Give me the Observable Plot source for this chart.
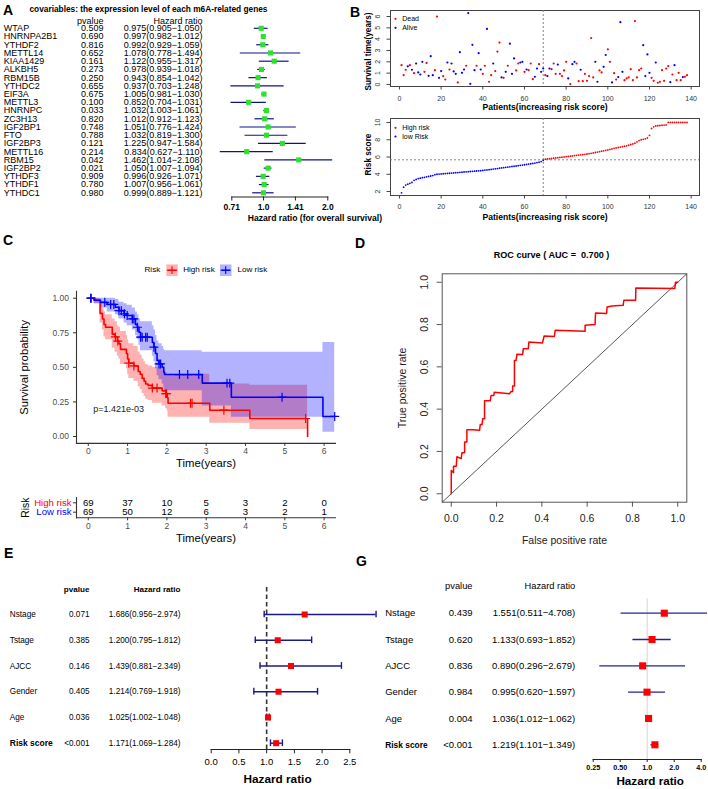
<!DOCTYPE html>
<html><head><meta charset="utf-8">
<script src="https://cdn.jsdelivr.net/npm/d3@7"></script>
<script src="https://cdn.jsdelivr.net/npm/@observablehq/plot@0.6"></script>
<style>
body{margin:0;background:#fff;}
#fig{position:relative;width:708px;height:789px;overflow:hidden;background:#fff;font-family:"Liberation Sans",Arial,Helvetica,sans-serif;}
.panel{position:absolute;}
.letter{position:absolute;font-weight:bold;font-size:14px;line-height:14px;color:#000;}
</style></head><body><div id="fig"></div>
<script>
// ---------------- Panel A data ----------------
const geneNames = ["WTAP","HNRNPA2B1","YTHDF2","METTL14","KIAA1429","ALKBH5","RBM15B","YTHDC2","EIF3A","METTL3","HNRNPC","ZC3H13","IGF2BP1","FTO","IGF2BP3","METTL16","RBM15","IGF2BP2","YTHDF3","YTHDF1","YTHDC1"];
const genePvals = ["0.509","0.690","0.816","0.652","0.161","0.273","0.250","0.655","0.675","0.100","0.033","0.820","0.748","0.788","0.121","0.214","0.042","0.021","0.909","0.780","0.980"];
const geneHR   = [0.975,0.997,0.992,1.078,1.122,0.978,0.943,0.937,1.005,0.852,1.032,1.012,1.051,1.032,1.225,0.834,1.462,1.050,0.996,1.007,0.999];
const geneLow  = [0.905,0.982,0.929,0.778,0.955,0.939,0.854,0.703,0.981,0.704,1.003,0.912,0.776,0.819,0.947,0.627,1.014,1.007,0.926,0.956,0.889];
const geneHigh = [1.050,1.012,1.059,1.494,1.317,1.018,1.042,1.248,1.030,1.031,1.061,1.123,1.424,1.300,1.584,1.110,2.108,1.094,1.071,1.061,1.121];
const geneTicks = [0.71, 1.0, 1.41, 2.0];

// ---------------- Panel B data ----------------
const survTimes = [1.7,0.82,1.3,1.6,1.7,1.3,1.0,1.85,1.06,0.88,
  2.0,1.12,1.9,0.76,2.5,0.82,1.26,6.0,0.59,1.18,
  0.74,0.44,1.94,1.32,1.85,1.15,0.94,0.18,2.85,1.03,
  1.32,1.65,6.3,0.06,3.5,1.26,1.65,2.76,1.32,0.94,
  1.65,4.9,0.24,0.82,1.85,1.18,2.9,3.7,0.62,0.59,
  1.12,1.65,3.6,0.94,2.3,1.24,1.85,1.94,2.0,1.12,
  1.32,1.26,1.85,0.47,0.68,1.41,1.79,1.12,1.41,0.82,
  0.74,1.41,1.35,1.85,0.94,1.76,0.94,0.74,1.24,2.0,
  0.53,0.03,1.79,2.0,1.85,0.29,1.3,0.29,0.94,0.32,
  0.74,4.1,0.62,2.0,0.24,1.24,1.06,1.56,2.6,3.1,
  2.0,0.18,1.0,0.44,0.65,5.5,1.12,0.38,0.53,0.62,
  1.35,0.38,5.6,0.62,1.26,1.41,3.47,0.74,2.65,1.03,
  0.59,0.32,1.94,0.15,0.24,1.26,0.32,1.41,1.62,0.2,
  0.88,1.7,0.38,1.03,0.38,0.65,0.68,0.82];
const survDead = [1,1,1,0,1,0,1,0,0,0, 0,1,1,0,0,0,1,1,0,0, 1,1,0,1,0,0,0,1,0,0, 0,1,0,0,0,0,1,0,0,1,
  1,0,1,1,0,1,1,1,0,1, 0,1,0,0,0,1,1,0,0,1, 0,1,1,1,0,0,1,0,0,1, 0,0,1,1,1,0,1,1,1,1,
  0,1,0,0,1,1,0,1,1,1, 1,1,1,0,0,1,1,0,0,1, 1,0,1,1,0,0,0,1,1,1, 1,1,1,1,1,1,0,0,0,0,
  1,1,0,1,1,1,1,1,1,0, 1,0,1,1,1,0,1,1];
const riskScores = [1.85,2.5,2.75,2.85,2.95,3.05,3.3,3.4,3.5,3.55,
  3.6,3.65,3.7,3.75,3.8,3.85,3.95,4.0,4.02,4.04,
  4.06,4.08,4.1,4.12,4.14,4.16,4.18,4.2,4.22,4.24,
  4.26,4.28,4.3,4.32,4.34,4.36,4.38,4.4,4.42,4.45,
  4.48,4.5,4.53,4.56,4.6,4.63,4.66,4.7,4.73,4.76,
  4.8,4.83,4.86,4.9,4.93,4.96,5.0,5.03,5.06,5.1,
  5.14,5.18,5.22,5.26,5.3,5.35,5.4,5.47,5.6,
  5.75,5.78,5.8,5.83,5.86,5.89,5.92,5.95,5.98,6.01,6.04,
  6.07,6.1,6.13,6.16,6.19,6.22,6.25,6.28,6.31,6.35,
  6.39,6.43,6.47,6.52,6.57,6.62,6.67,6.72,6.77,6.82,
  6.88,6.94,7.0,7.05,7.1,7.15,7.2,7.25,7.3,7.36,
  7.45,7.52,7.6,7.75,7.9,8.0,8.05,8.1,8.2,8.5,
  9.3,9.5,9.6,9.62,9.65,9.68,9.7,9.72,10.0,10.0,
  10.0,10.0,10.0,10.0,10.0,10.0,10.0,10.0];
const lowRiskCount = 69;
const patientTicks = [0,20,40,60,80,100,120,140];
const survTicks = [0,1,2,3,4,5,6];
const riskTicks = [2,4,6,8,10];

// ---------------- Panel C data ----------------
const highT  = [0,0.15,0.30,0.36,0.40,0.44,0.61,0.68,0.74,0.78,0.82,0.97,1.00,1.03,1.16,1.27,1.32,1.37,1.42,1.46,1.52,1.63,1.88,1.97,2.01,2.03,3.09,4.11,5.58];
const highS  = [1,0.986,0.89,0.85,0.81,0.79,0.74,0.72,0.69,0.67,0.63,0.60,0.56,0.53,0.51,0.47,0.45,0.42,0.40,0.38,0.37,0.35,0.33,0.31,0.28,0.24,0.19,0.13,0];
const highLo = [1,0.96,0.82,0.77,0.72,0.70,0.64,0.61,0.58,0.56,0.52,0.49,0.45,0.42,0.40,0.36,0.34,0.31,0.29,0.27,0.26,0.24,0.22,0.20,0.18,0.14,0.095,0.05,0.05];
const highHi = [1,1,0.96,0.93,0.90,0.88,0.85,0.83,0.80,0.79,0.76,0.73,0.70,0.67,0.65,0.61,0.59,0.56,0.54,0.52,0.51,0.50,0.48,0.46,0.44,0.45,0.38,0.37,0.37];
const lowT   = [0,0.15,0.31,0.48,0.69,0.78,0.91,0.99,1.12,1.20,1.25,1.29,1.33,1.63,1.67,1.71,1.75,1.80,1.88,1.92,1.94,2.90,3.64,5.97,6.27];
const lowS   = [1,0.985,0.97,0.955,0.935,0.91,0.887,0.875,0.85,0.81,0.79,0.754,0.718,0.68,0.646,0.60,0.55,0.525,0.50,0.465,0.448,0.386,0.284,0.145,0.145];
const lowLo  = [1,0.96,0.93,0.90,0.88,0.85,0.82,0.80,0.77,0.73,0.70,0.66,0.62,0.58,0.54,0.49,0.44,0.41,0.38,0.35,0.33,0.22,0.14,0.03,0.03];
const lowHi  = [1,1,1,1,0.99,0.97,0.96,0.95,0.93,0.90,0.88,0.85,0.83,0.80,0.77,0.73,0.69,0.67,0.65,0.63,0.62,0.61,0.61,0.68,0.68];
const highCens = [0.08,0.69,0.75,1.03,1.16,1.63,1.75,1.97,1.99,2.60,2.64,3.45,5.53];
const lowCens  = [0.06,0.42,0.57,0.65,0.78,0.84,0.92,0.99,1.12,1.16,1.25,1.33,1.37,1.46,1.50,1.67,1.80,1.84,2.32,2.53,2.81,3.53,3.60,4.93,6.27];
const riskTimes = [0,1,2,3,4,5,6];
const atRiskHigh = [69,37,10,5,3,2,0];
const atRiskLow  = [69,50,12,6,3,2,1];
const survProbTicks = [0,0.25,0.5,0.75,1];
const pValueText = "p=1.421e-03";

// ---------------- Panel D data ----------------
const rocFPR = [0,0,0.01,0.01,0.022,0.025,0.044,0.047,0.059,0.059,0.069,0.069,0.095,0.125,0.128,0.136,0.139,0.147,0.147,0.172,0.176,0.188,0.19,0.257,0.264,0.271,0.271,0.279,0.279,0.286,0.29,0.315,0.318,0.34,0.343,0.403,0.41,0.455,0.459,0.591,0.591,0.635,0.637,0.686,0.688,0.71,0.759,0.762,0.814,0.815,0.987,0.99,1];
const rocTPR = [0,0.11,0.10,0.13,0.13,0.175,0.166,0.194,0.194,0.245,0.245,0.303,0.303,0.30,0.327,0.327,0.355,0.355,0.44,0.44,0.465,0.465,0.48,0.473,0.484,0.484,0.51,0.51,0.63,0.63,0.66,0.658,0.686,0.686,0.718,0.713,0.746,0.744,0.773,0.768,0.797,0.80,0.855,0.852,0.883,0.888,0.891,0.915,0.915,0.973,0.970,1.0,1];
const rocAUC = 0.700;
const rocTicks = [0,0.2,0.4,0.6,0.8,1.0];

// ---------------- Panels E & G data ----------------
const covNames = ["Nstage","Tstage","AJCC","Gender","Age","Risk score"];
const ePvals = ["0.071","0.385","0.146","0.405","0.036","<0.001"];
const eHR   = [1.686,1.200,1.439,1.214,1.025,1.171];
const eLow  = [0.956,0.795,0.881,0.769,1.002,1.069];
const eHigh = [2.974,1.812,2.349,1.918,1.048,1.284];
const eTicks = [0,0.5,1.0,1.5,2.0,2.5];
const gPvals = ["0.439","0.620","0.836","0.984","0.004","<0.001"];
const gHR   = [1.551,1.133,0.890,0.995,1.036,1.219];
const gLow  = [0.511,0.693,0.296,0.620,1.012,1.101];
const gHigh = [4.708,1.852,2.679,1.597,1.062,1.349];
const gTicks = [0.25,0.5,1,2,4];

// ---------------- helpers ----------------
const FONT = '"Liberation Sans", Arial, Helvetica, sans-serif';
const MINUS = "\u2212";
const baseStyle = {fontFamily: FONT, background: "transparent", overflow: "visible", color: "#000"};
const fig = document.getElementById("fig");
function place(svg, left, top) {
  const d = document.createElement("div");
  d.className = "panel"; d.style.left = left + "px"; d.style.top = top + "px";
  d.appendChild(svg); fig.appendChild(d);
}
function letter(ch, x, baseline) {
  const d = document.createElement("div");
  d.className = "letter"; d.textContent = ch;
  d.style.left = x + "px"; d.style.top = (baseline - 11.9) + "px";
  fig.appendChild(d);
}
function lbl(t, o) { return Plot.text([t], {text: d => d, lineAnchor: "middle", fill: "#000", ...o}); }
const fmtCI = d => `${d.hr.toFixed(3)}(${d.lo.toFixed(3)}${MINUS}${d.hi.toFixed(3)})`;
function stepAt(ts, ss, t) { let v = ss[0]; for (let i = 0; i < ts.length; i++) if (ts[i] <= t) v = ss[i]; return v; }
const hlineSymbol = {draw(ctx, size) { const r = Math.sqrt(size / Math.PI); ctx.moveTo(-r, 0); ctx.lineTo(r, 0); }};

// ---------------- Panel A ----------------
const geneRows = geneNames.map((g, i) => ({i, name: g, p: genePvals[i], hr: geneHR[i], lo: geneLow[i], hi: geneHigh[i]}));
const plotA = Plot.plot({
  width: 354, height: 230, marginLeft: 231.3, marginRight: 26.7, marginTop: 21, marginBottom: 33.5,
  style: baseStyle,
  x: {type: "log", domain: [0.71, 2.0]},
  y: {domain: [0, 20], range: [27.8, 192.3], axis: null},
  marks: [
    Plot.ruleY(geneRows, {y: "i", x1: "lo", x2: "hi", stroke: "#10108c", strokeWidth: 1.2}),
    Plot.dot(geneRows, {x: "hr", y: "i", symbol: "square", r: 2.9, fill: "#2fe02f", stroke: "none"}),
    Plot.frame({anchor: "bottom", stroke: "#222"}),
    Plot.axisX(geneTicks, {label: null, tickFormat: () => "", tickSize: 4, stroke: "#222"}),
    Plot.text(geneTicks, {x: d => d, text: d => Number.isInteger(d) ? d.toFixed(1) : String(d), frameAnchor: "bottom", dy: 10.2, lineAnchor: "middle", fontSize: 8.5, fontWeight: "bold", fill: "#000"}),
    Plot.text(geneRows, {y: "i", text: "name", frameAnchor: "left", dx: -228, textAnchor: "start", lineAnchor: "middle", fontSize: 9}),
    Plot.text(geneRows, {y: "i", text: "p", frameAnchor: "left", dx: -128.3, textAnchor: "end", lineAnchor: "middle", fontSize: 9}),
    Plot.text(geneRows, {y: "i", text: fmtCI, frameAnchor: "left", dx: -29.3, textAnchor: "end", lineAnchor: "middle", fontSize: 9}),
    lbl("pvalue", {frameAnchor: "top-left", dx: -128.3, dy: -0.5, textAnchor: "end", fontSize: 9}),
    lbl("Hazard ratio", {frameAnchor: "top-left", dx: -29.3, dy: -0.5, textAnchor: "end", fontSize: 9}),
    lbl("covariables: the expression level of each m6A-related genes", {frameAnchor: "top-left", dx: -202.3, dy: -12, textAnchor: "start", fontSize: 8.3, fontWeight: "bold"}),
    lbl("Hazard ratio (for overall survival)", {frameAnchor: "bottom-left", dx: 16, dy: 21, textAnchor: "start", fontSize: 8.6, fontWeight: "bold"})
  ]
});
place(plotA, 0, 0);

// ---------------- Panel B (top) ----------------
const patients = survTimes.map((t, i) => ({idx: i + 1, t, status: survDead[i] ? "Dead" : "Alive"}));
const plotB1 = Plot.plot({
  width: 354, height: 112, marginLeft: 36, marginRight: 9, marginTop: 10, marginBottom: 26,
  style: baseStyle,
  x: {domain: [-4.3, 144]},
  y: {domain: [-0.18, 6.53]},
  color: {domain: ["Dead", "Alive"], range: ["#ff0000", "#0000ff"]},
  marks: [
    Plot.frame({stroke: "#444"}),
    Plot.ruleX([lowRiskCount], {stroke: "#777", strokeDasharray: "2,2", strokeWidth: 0.9}),
    Plot.dot(patients, {x: "idx", y: "t", fill: "status", r: 1.1, stroke: "none"}),
    Plot.axisX(patientTicks, {label: null, tickSize: 3.5, tickPadding: 6, fontSize: 7, fill: "#333", stroke: "#444"}),
    Plot.axisY(survTicks, {label: null, tickSize: 3.5, tickFormat: () => "", stroke: "#444"}),
    Plot.text(survTicks, {y: d => d, text: d => String(d), frameAnchor: "left", dx: -12.5, rotate: -90, textAnchor: "middle", lineAnchor: "middle", fontSize: 7, fill: "#333"}),
    lbl("Survival time(years)", {frameAnchor: "left", dx: -22.5, dy: 3, rotate: -90, textAnchor: "middle", fontSize: 8.2, fontWeight: "bold"}),
    lbl("Patients(increasing risk score)", {frameAnchor: "bottom", dy: 21, textAnchor: "middle", fontSize: 8.6, fontWeight: "bold"}),
    Plot.dot(["Dead"], {frameAnchor: "top-left", dx: 5, dy: 8.3, r: 1.1, fill: "#ff0000"}),
    Plot.dot(["Alive"], {frameAnchor: "top-left", dx: 5, dy: 17.3, r: 1.1, fill: "#0000ff"}),
    lbl("Dead", {frameAnchor: "top-left", dx: 11.7, dy: 8.3, textAnchor: "start", fontSize: 7}),
    lbl("Alive", {frameAnchor: "top-left", dx: 11.7, dy: 17.3, textAnchor: "start", fontSize: 7})
  ]
});
place(plotB1, 354, 0);

// ---------------- Panel B (bottom) ----------------
const riskRows = riskScores.map((s, i) => ({idx: i + 1, s, group: i < lowRiskCount ? "low Risk" : "High risk"}));
const riskCut = (riskScores[lowRiskCount - 1] + riskScores[lowRiskCount]) / 2;
const plotB2 = Plot.plot({
  width: 354, height: 118, marginLeft: 36, marginRight: 9, marginTop: 6, marginBottom: 35,
  style: baseStyle,
  x: {domain: [-4.3, 144]},
  y: {domain: [1.54, 10.46]},
  color: {domain: ["High risk", "low Risk"], range: ["#ff0000", "#0000ff"]},
  marks: [
    Plot.frame({stroke: "#444"}),
    Plot.ruleX([lowRiskCount], {stroke: "#777", strokeDasharray: "2,2", strokeWidth: 0.9}),
    Plot.ruleY([riskCut], {stroke: "#777", strokeDasharray: "2,2", strokeWidth: 0.9}),
    Plot.dot(riskRows, {x: "idx", y: "s", fill: "group", r: 0.9, stroke: "none"}),
    Plot.axisX(patientTicks, {label: null, tickSize: 3.5, tickPadding: 5, fontSize: 7, fill: "#333", stroke: "#444"}),
    Plot.axisY(riskTicks, {label: null, tickSize: 3.5, tickFormat: () => "", stroke: "#444"}),
    Plot.text(riskTicks, {y: d => d, text: d => String(d), frameAnchor: "left", dx: -13, rotate: -90, textAnchor: "middle", lineAnchor: "middle", fontSize: 7, fill: "#333"}),
    lbl("Risk score", {frameAnchor: "left", dx: -22.5, dy: -2.5, rotate: -90, textAnchor: "middle", fontSize: 8.3, fontWeight: "bold"}),
    lbl("Patients(increasing risk score)", {frameAnchor: "bottom", dy: 21.7, textAnchor: "middle", fontSize: 8.6, fontWeight: "bold"}),
    Plot.dot(["High risk"], {frameAnchor: "top-left", dx: 5, dy: 9.3, r: 1.1, fill: "#ff0000"}),
    Plot.dot(["low Risk"], {frameAnchor: "top-left", dx: 5, dy: 18, r: 1.1, fill: "#0000ff"}),
    lbl("High risk", {frameAnchor: "top-left", dx: 11.7, dy: 9.3, textAnchor: "start", fontSize: 7}),
    lbl("low Risk", {frameAnchor: "top-left", dx: 11.7, dy: 18, textAnchor: "start", fontSize: 7})
  ]
});
place(plotB2, 354, 112);

// ---------------- Panel C (KM) ----------------
const highRows = highT.map((t, i) => ({t, s: highS[i], lo: highLo[i], hi: highHi[i]}));
const lowRows = lowT.map((t, i) => ({t, s: lowS[i], lo: lowLo[i], hi: lowHi[i]}));
const kmX = [-0.3, 6.29];
const plotC = Plot.plot({
  width: 354, height: 225, marginLeft: 76, marginRight: 19, marginTop: 35.8, marginBottom: 37.1,
  style: baseStyle,
  x: {domain: kmX},
  y: {domain: [-0.05, 1.05]},
  marks: [
    Plot.areaY(highRows, {x: "t", y1: "lo", y2: "hi", curve: "step-after", fill: "#ff0000", fillOpacity: 0.3}),
    Plot.areaY(lowRows, {x: "t", y1: "lo", y2: "hi", curve: "step-after", fill: "#0000ff", fillOpacity: 0.3}),
    Plot.line(highRows, {x: "t", y: "s", curve: "step-after", stroke: "#ff0000", strokeWidth: 1.6}),
    Plot.line(lowRows, {x: "t", y: "s", curve: "step-after", stroke: "#0000ff", strokeWidth: 1.6}),
    Plot.dot(highCens, {x: d => d, y: d => stepAt(highT, highS, d), symbol: "plus", r: 3, stroke: "#ff0000", strokeWidth: 1.2}),
    Plot.dot(lowCens, {x: d => d, y: d => stepAt(lowT, lowS, d), symbol: "plus", r: 3, stroke: "#0000ff", strokeWidth: 1.2}),
    Plot.frame({anchor: "left", stroke: "#333", strokeWidth: 1.1}),
    Plot.frame({anchor: "bottom", stroke: "#333", strokeWidth: 1.1}),
    Plot.axisX(riskTimes, {label: null, tickSize: 3, tickPadding: 1.5, fontSize: 8.5, fill: "#4d4d4d", stroke: "#333"}),
    Plot.axisY(survProbTicks, {label: null, tickFormat: d => d.toFixed(2), tickSize: 3, tickPadding: 4.5, fontSize: 8.5, fill: "#4d4d4d", stroke: "#333"}),
    lbl(pValueText, {frameAnchor: "bottom-left", dx: 16.7, dy: -34, textAnchor: "start", fontSize: 9, fill: "#222"}),
    lbl("Time(years)", {frameAnchor: "bottom", dy: 20.3, textAnchor: "middle", fontSize: 11.3}),
    lbl("Survival probability", {frameAnchor: "left", dx: -52, rotate: -90, textAnchor: "middle", fontSize: 11.3}),
    // legend
    lbl("Risk", {frameAnchor: "top-left", dx: 68, dy: -21.5, textAnchor: "start", fontSize: 8.1}),
    Plot.dot(["High risk"], {frameAnchor: "top-left", dx: 95.5, dy: -21.1, symbol: "square", r: 6.5, fill: "#ff0000", fillOpacity: 0.3}),
    Plot.dot(["High risk"], {frameAnchor: "top-left", dx: 95.5, dy: -21.1, symbol: hlineSymbol, r: 5, fill: "none", stroke: "#ff0000", strokeWidth: 1.3}),
    Plot.dot(["High risk"], {frameAnchor: "top-left", dx: 95.5, dy: -21.1, symbol: "plus", r: 2.6, stroke: "#ff0000", strokeWidth: 1.1}),
    lbl("High risk", {frameAnchor: "top-left", dx: 106.7, dy: -21.5, textAnchor: "start", fontSize: 8.1}),
    Plot.dot(["Low risk"], {frameAnchor: "top-left", dx: 149.2, dy: -21.1, symbol: "square", r: 6.5, fill: "#0000ff", fillOpacity: 0.3}),
    Plot.dot(["Low risk"], {frameAnchor: "top-left", dx: 149.2, dy: -21.1, symbol: hlineSymbol, r: 5, fill: "none", stroke: "#0000ff", strokeWidth: 1.3}),
    Plot.dot(["Low risk"], {frameAnchor: "top-left", dx: 149.2, dy: -21.1, symbol: "plus", r: 2.6, stroke: "#0000ff", strokeWidth: 1.1}),
    lbl("Low risk", {frameAnchor: "top-left", dx: 161, dy: -21.5, textAnchor: "start", fontSize: 8.1})
  ]
});
place(plotC, 0, 255);

// ---------------- Panel C risk table ----------------
const tableRows = [];
riskTimes.forEach((t, i) => {
  tableRows.push({t, row: 0, n: atRiskHigh[i]});
  tableRows.push({t, row: 1, n: atRiskLow[i]});
});
const plotCT = Plot.plot({
  width: 354, height: 60, marginLeft: 76, marginRight: 19, marginTop: 7, marginBottom: 32.7,
  style: baseStyle,
  x: {domain: kmX},
  y: {domain: [0, 1], range: [12.3, 21.7]},
  marks: [
    Plot.text(tableRows, {x: "t", y: "row", text: d => String(d.n), lineAnchor: "middle", fontSize: 9.6, fill: "#000"}),
    Plot.frame({anchor: "left", stroke: "#333", strokeWidth: 1.1}),
    Plot.frame({anchor: "bottom", stroke: "#333", strokeWidth: 1.1}),
    Plot.axisX(riskTimes, {label: null, tickSize: 3, tickPadding: 2, fontSize: 8.5, fill: "#4d4d4d", stroke: "#333"}),
    Plot.axisY([0, 1], {label: null, tickSize: 3, tickFormat: () => "", stroke: "#333"}),
    Plot.text([0], {y: d => d, text: () => "High risk", frameAnchor: "left", dx: -5, textAnchor: "end", lineAnchor: "middle", fontSize: 9.6, fill: "#ff0000"}),
    Plot.text([1], {y: d => d, text: () => "Low risk", frameAnchor: "left", dx: -5, textAnchor: "end", lineAnchor: "middle", fontSize: 9.6, fill: "#0000ff"}),
    lbl("Risk", {frameAnchor: "left", dx: -51, rotate: -90, textAnchor: "middle", fontSize: 10.3}),
    lbl("Time(years)", {frameAnchor: "bottom", dy: 20.7, textAnchor: "middle", fontSize: 11.3})
  ]
});
place(plotCT, 0, 490);

// ---------------- Panel D (ROC) ----------------
const rocRows = rocFPR.map((f, i) => ({f, t: rocTPR[i]}));
const rocDomain = [-0.04, 1.04];
const plotD = Plot.plot({
  width: 354, height: 310, marginLeft: 87.7, marginRight: 21.7, marginTop: 33.3, marginBottom: 48.3,
  style: baseStyle,
  x: {domain: rocDomain},
  y: {domain: rocDomain},
  marks: [
    Plot.frame({stroke: "#555"}),
    Plot.line(rocDomain, {x: d => d, y: d => d, stroke: "#444", strokeWidth: 0.9}),
    Plot.line(rocRows, {x: "f", y: "t", stroke: "#ff0000", strokeWidth: 1.5}),
    Plot.axisX(rocTicks, {label: null, tickFormat: d => d.toFixed(1), tickSize: 5, tickPadding: 7.5, fontSize: 10.5, fill: "#222", stroke: "#555"}),
    Plot.axisY(rocTicks, {label: null, tickSize: 5, tickFormat: () => "", stroke: "#555"}),
    Plot.text(rocTicks, {y: d => d, text: d => d.toFixed(1), frameAnchor: "left", dx: -17.7, rotate: -90, textAnchor: "middle", lineAnchor: "middle", fontSize: 10.5, fill: "#222"}),
    lbl(`ROC curve ( AUC =  ${rocAUC.toFixed(3)} )`, {frameAnchor: "top", dx: -13, dy: -18.3, textAnchor: "middle", fontSize: 9.1, fontWeight: "bold"}),
    lbl("True positive rate", {frameAnchor: "left", dx: -39.7, rotate: -90, textAnchor: "middle", fontSize: 10.5, fill: "#222"}),
    lbl("False positive rate", {frameAnchor: "bottom", dy: 38.3, textAnchor: "middle", fontSize: 10.5, fill: "#222"})
  ]
});
place(plotD, 354, 240);

// ---------------- Panel E ----------------
const eRows = covNames.map((n, i) => ({i, name: n, p: ePvals[i], hr: eHR[i], lo: eLow[i], hi: eHigh[i]}));
const plotE = Plot.plot({
  width: 354, height: 249, marginLeft: 210.7, marginRight: 4.7, marginTop: 47, marginBottom: 40,
  style: baseStyle,
  x: {domain: [0, 2.5]},
  y: {domain: [0, 5], range: [74, 202.7], axis: null},
  marks: [
    Plot.ruleX([1], {stroke: "#333", strokeWidth: 1.6, strokeDasharray: "4.5,3"}),
    Plot.ruleY(eRows, {y: "i", x1: "lo", x2: "hi", stroke: "#1a1a8c", strokeWidth: 1.4}),
    Plot.ruleX(eRows, {x: "lo", y1: d => d.i - 0.13, y2: d => d.i + 0.13, stroke: "#1a1a8c", strokeWidth: 1.4}),
    Plot.ruleX(eRows, {x: "hi", y1: d => d.i - 0.13, y2: d => d.i + 0.13, stroke: "#1a1a8c", strokeWidth: 1.4}),
    Plot.dot(eRows, {x: "hr", y: "i", symbol: "square", r: 3.4, fill: "#ff0000", stroke: "none"}),
    Plot.frame({anchor: "bottom", stroke: "#222"}),
    Plot.axisX(eTicks, {label: null, tickFormat: d => d.toFixed(1), tickSize: 4.3, tickPadding: 4, fontSize: 9.5, fill: "#000", stroke: "#222"}),
    lbl("Hazard ratio", {frameAnchor: "bottom", dx: -3, dy: 30, textAnchor: "middle", fontSize: 11.8, fontWeight: "bold"}),
    Plot.text(eRows.filter(d => d.name !== "Risk score"), {y: "i", text: "name", frameAnchor: "left", dx: -201.4, textAnchor: "start", lineAnchor: "middle", fontSize: 8.2}),
    Plot.text(eRows.filter(d => d.name === "Risk score"), {y: "i", text: "name", frameAnchor: "left", dx: -201.4, textAnchor: "start", lineAnchor: "middle", fontSize: 8.5, fontWeight: "bold"}),
    Plot.text(eRows, {y: "i", text: "p", frameAnchor: "left", dx: -121.7, textAnchor: "end", lineAnchor: "middle", fontSize: 8.2}),
    Plot.text(eRows, {y: "i", text: fmtCI, frameAnchor: "left", dx: -30.7, textAnchor: "end", lineAnchor: "middle", fontSize: 8.2}),
    lbl("pvalue", {frameAnchor: "top-left", dx: -121.7, dy: 2, textAnchor: "end", fontSize: 8.1, fontWeight: "bold"}),
    lbl("Hazard ratio", {frameAnchor: "top-left", dx: -30.7, dy: 2, textAnchor: "end", fontSize: 8.1, fontWeight: "bold"})
  ]
});

// ---------------- Panel G ----------------
const gRows = covNames.map((n, i) => ({i, name: n, p: gPvals[i], hr: gHR[i], lo: gLow[i], hi: gHigh[i]}));
const plotG = Plot.plot({
  width: 354, height: 249, marginLeft: 238.7, marginRight: 7.3, marginTop: 58.3, marginBottom: 30,
  style: baseStyle,
  x: {type: "log", domain: [0.25, 4]},
  y: {domain: [0, 5], range: [72.7, 204.3], axis: null},
  marks: [
    Plot.ruleX([1], {stroke: "#d4d4d4", strokeWidth: 1}),
    Plot.ruleY(gRows, {y: "i", x1: "lo", x2: "hi", stroke: "#2323a0", strokeWidth: 1.3}),
    Plot.dot(gRows, {x: "hr", y: "i", symbol: "square", r: 4, fill: "#ff0000", stroke: "none"}),
    Plot.frame({anchor: "bottom", stroke: "#222"}),
    Plot.axisX(gTicks, {label: null, tickFormat: () => "", tickSize: 3, stroke: "#222"}),
    Plot.text(gTicks, {x: d => d, text: d => d < 1 ? d.toFixed(2) : d.toFixed(1), frameAnchor: "bottom", dy: 8.5, lineAnchor: "middle", fontSize: 7.2, fontWeight: "bold", fill: "#000"}),
    lbl("Hazard ratio", {frameAnchor: "bottom", dx: 3, dy: 22, textAnchor: "middle", fontSize: 11.7, fontWeight: "bold"}),
    Plot.text(gRows.filter(d => d.name !== "Risk score"), {y: "i", text: "name", frameAnchor: "left", dx: -208, textAnchor: "start", lineAnchor: "middle", fontSize: 9.5}),
    Plot.text(gRows.filter(d => d.name === "Risk score"), {y: "i", text: "name", frameAnchor: "left", dx: -208, textAnchor: "start", lineAnchor: "middle", fontSize: 8.4, fontWeight: "bold"}),
    Plot.text(gRows, {y: "i", text: "p", frameAnchor: "left", dx: -120.7, textAnchor: "end", lineAnchor: "middle", fontSize: 9.5}),
    Plot.text(gRows, {y: "i", text: fmtCI, frameAnchor: "left", dx: -18, textAnchor: "end", lineAnchor: "middle", fontSize: 9.5}),
    lbl("pvalue", {frameAnchor: "top-left", dx: -120.7, dy: -12.3, textAnchor: "end", fontSize: 9.3}),
    lbl("Hazard ratio", {frameAnchor: "top-left", dx: -18, dy: -12.3, textAnchor: "end", fontSize: 9.3})
  ]
});
place(plotG, 354, 540);
place(plotE, 0, 540);

// ---------------- panel letters ----------------
letter("A", 3, 15);
letter("B", 350, 16.5);
letter("C", 3, 245);
letter("D", 355, 248);
letter("E", 4, 558);
letter("G", 356, 566);
</script></body></html>
